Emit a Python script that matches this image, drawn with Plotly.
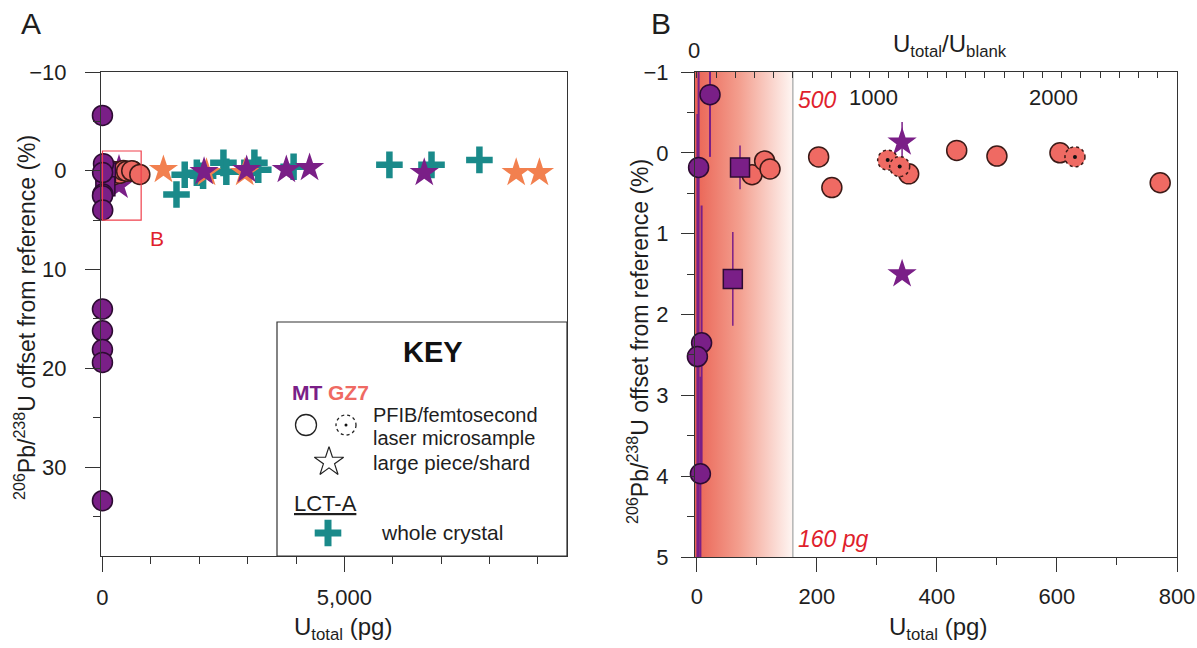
import plotly.graph_objects as go

W, H = 1197, 648
FONT = "Liberation Sans, Arial, Helvetica, sans-serif"
INK = "#1e1e1e"

# ---------------- data ----------------
# MT (purple) PFIB/femtosecond laser microsamples (circles)
mt_circ_x = [22, 3, 8, 1, 6]
mt_circ_y = [-0.72, 0.18, 2.35, 2.52, 3.97]
mt_circ_err = [0.77, 6.0, 1.7, 3.0, 1.2]
# MT microsamples with offsets outside panel B
mt_circ_far_x = [0, 0, 0, 0, 0, 0]
mt_circ_far_y = [-5.6, 14.0, 16.2, 18.1, 19.4, 33.4]
# MT squares
mt_sq_x = [72, 60]
mt_sq_y = [0.18, 1.56]
mt_sq_err = [0.27, 0.58]
# MT large piece / shard (stars)
mt_star_x = [342, 342, 2100, 2980, 3800, 4280, 6650]
mt_star_y = [-0.13, 1.50, 0.10, -0.10, -0.10, -0.30, 0.20]
mt_star_err = [0.25, 0.0, 0.0, 0.0, 0.0, 0.0, 0.0]
# GZ7 microsamples (solid circles)
gz_circ_x = [92, 113, 122, 203, 225, 353, 433, 500, 605, 772]
gz_circ_y = [0.27, 0.10, 0.20, 0.05, 0.43, 0.26, -0.03, 0.04, 0.00, 0.37]
# GZ7 microsamples (dashed circles)
gz_dash_x = [318, 338, 630]
gz_dash_y = [0.09, 0.17, 0.05]
# GZ7 large piece / shard (stars)
gz_star_x = [1260, 2150, 2940, 8550, 9030]
gz_star_y = [-0.10, 0.20, 0.20, 0.20, 0.20]
# LCT-A whole crystals (crosses)
lct_x = [1530, 1700, 1950, 2080, 2500, 2560, 3140, 3220, 3950, 5930, 6800, 7790]
lct_y = [2.4, 0.4, 0.2, 0.5, -0.8, 0.1, -0.8, -0.1, -0.4, -0.6, -0.6, -1.1]

blank_pg = 160          # U_total at U_total/U_blank = 500
u_blank_pg = 0.32       # pg of U in blank

a_xrange = [-30, 9600]
a_yrange = [39, -10]
b_xrange = [-3, 800]
b_yrange = [5, -1]

# ---------------- colours ----------------
PURPLE = "#7a1f87"
PURPLE_EDGE = "#2d0b32"
SALMON = "#ef6a63"
SALMON_EDGE = "#3b1a17"
ORANGE = "#f2804f"
TEAL = "#1a8a8a"
RED = "#e01f2d"


def px(x):
    return x / W


def py(y):
    return 1 - y / H


fig = go.Figure()


def add_panel(xa, ya, in_b):
    def keep(xs, ys, extra=None):
        if not in_b:
            return xs, ys, extra
        idx = [i for i, (a, b) in enumerate(zip(xs, ys))
               if b_xrange[0] <= a <= b_xrange[1] and b_yrange[1] <= b <= b_yrange[0]]
        return [xs[i] for i in idx], [ys[i] for i in idx], ([extra[i] for i in idx] if extra else None)

    common = dict(xaxis=xa, yaxis=ya, hoverinfo="skip", showlegend=False)
    if in_b:
        # gradient blank zone
        fig.add_trace(go.Scatter(
            x=[b_xrange[0], blank_pg, blank_pg, b_xrange[0], b_xrange[0]],
            y=[b_yrange[1], b_yrange[1], b_yrange[0], b_yrange[0], b_yrange[1]],
            mode="lines", fill="toself", line=dict(width=0),
            fillgradient=dict(type="horizontal",
                              colorscale=[[0, "#ea6354"], [0.45, "#f39e8e"], [1, "#fef6f3"]]),
            **common))
        fig.add_trace(go.Scatter(x=[blank_pg, blank_pg], y=[b_yrange[1], b_yrange[0]], mode="lines",
                                 line=dict(color="#b4b4b4", width=1.5), **common))
        # error bars (clipped)
        fig.add_trace(go.Scatter(x=mt_circ_x, y=mt_circ_y, mode="markers", marker=dict(size=1, opacity=0),
                                 error_y=dict(type="data", array=mt_circ_err, color=PURPLE, thickness=2, width=0),
                                 cliponaxis=True, **common))
        fig.add_trace(go.Scatter(x=mt_sq_x, y=mt_sq_y, mode="markers", marker=dict(size=1, opacity=0),
                                 error_y=dict(type="data", array=mt_sq_err, color=PURPLE, thickness=1.5, width=0),
                                 cliponaxis=True, **common))
        sx, sy, se = keep(mt_star_x, mt_star_y, mt_star_err)
        fig.add_trace(go.Scatter(x=sx, y=sy, mode="markers", marker=dict(size=1, opacity=0),
                                 error_y=dict(type="data", array=se, color=PURPLE, thickness=1.5, width=0),
                                 cliponaxis=True, **common))

    circ = 20
    star = 22

    if not in_b:
        fig.add_trace(go.Scatter(x=lct_x, y=lct_y, mode="markers",
                                 marker=dict(symbol="cross-thin-open", size=19, color=TEAL,
                                             line=dict(color=TEAL, width=6.5)),
                                 cliponaxis=False, **common))
        fig.add_trace(go.Scatter(x=gz_star_x, y=gz_star_y, mode="markers",
                                 marker=dict(symbol="star", size=star, color=ORANGE, line=dict(width=0)),
                                 cliponaxis=False, **common))
        # MT stars under the microsample circles in panel A
        fig.add_trace(go.Scatter(x=mt_star_x, y=mt_star_y, mode="markers",
                                 marker=dict(symbol="star", size=star, color=PURPLE, line=dict(width=0)),
                                 cliponaxis=False, **common))
        # at panel A's scale the dashed microsamples read as plain circles
        fig.add_trace(go.Scatter(x=gz_dash_x, y=gz_dash_y, mode="markers",
                                 marker=dict(symbol="circle", size=circ, color=SALMON,
                                             line=dict(color=SALMON_EDGE, width=1.5)),
                                 cliponaxis=False, **common))
    # GZ7 circles
    fig.add_trace(go.Scatter(x=gz_circ_x, y=gz_circ_y, mode="markers",
                             marker=dict(symbol="circle", size=circ, color=SALMON,
                                         line=dict(color=SALMON_EDGE, width=1.5)),
                             cliponaxis=False, **common))
    # MT squares
    fig.add_trace(go.Scatter(x=mt_sq_x, y=mt_sq_y, mode="markers",
                             marker=dict(symbol="square", size=19, color=PURPLE,
                                         line=dict(color=PURPLE_EDGE, width=1.5)),
                             cliponaxis=False, **common))
    # MT circles
    cx = mt_circ_x + ([] if in_b else mt_circ_far_x)
    cy = mt_circ_y + ([] if in_b else mt_circ_far_y)
    fig.add_trace(go.Scatter(x=cx, y=cy, mode="markers",
                             marker=dict(symbol="circle", size=circ, color=PURPLE,
                                         line=dict(color=PURPLE_EDGE, width=1.5)),
                             cliponaxis=False, **common))

    if in_b:
        # MT stars
        sx, sy, _ = keep(mt_star_x, mt_star_y)
        fig.add_trace(go.Scatter(x=sx, y=sy, mode="markers",
                                 marker=dict(symbol="star", size=star, color=PURPLE, line=dict(width=0)),
                                 cliponaxis=False, **common))
        # dashed GZ7 circles as pixel-sized shapes anchored at data points
        for dx, dy in zip(gz_dash_x, gz_dash_y):
            fig.add_shape(type="circle", xref=xa, yref=ya, xsizemode="pixel", ysizemode="pixel",
                          xanchor=dx, yanchor=dy, x0=-10, x1=10, y0=-10, y1=10,
                          fillcolor=SALMON, line=dict(color=SALMON_EDGE, width=1.5, dash="dot"), layer="above")
            fig.add_shape(type="circle", xref=xa, yref=ya, xsizemode="pixel", ysizemode="pixel",
                          xanchor=dx, yanchor=dy, x0=-2, x1=2, y0=-2, y1=2,
                          fillcolor="#111", line=dict(width=0), layer="above")


add_panel("x", "y", in_b=False)
add_panel("x2", "y2", in_b=True)

# empty trace to carry the top axis of panel B
fig.add_trace(go.Scatter(x=[], y=[], xaxis="x4", yaxis="y2", showlegend=False))

# ---------------- key (legend) glyphs on a pixel-space overlay ----------------
key_glyph_x = [306, 329, 328]
key_glyph_y = [425, 462, 533]
fig.add_trace(go.Scatter(x=[key_glyph_x[0]], y=[key_glyph_y[0]], xaxis="x3", yaxis="y3", mode="markers",
                         marker=dict(symbol="circle-open", size=21, color="#222", line=dict(color="#222", width=1.3)),
                         showlegend=False, hoverinfo="skip"))
fig.add_trace(go.Scatter(x=[key_glyph_x[1]], y=[key_glyph_y[1]], xaxis="x3", yaxis="y3", mode="markers",
                         marker=dict(symbol="star-open", size=22, color="#222", line=dict(color="#222", width=1.2)),
                         showlegend=False, hoverinfo="skip"))
fig.add_trace(go.Scatter(x=[key_glyph_x[2]], y=[key_glyph_y[2]], xaxis="x3", yaxis="y3", mode="markers",
                         marker=dict(symbol="cross-thin-open", size=19, color=TEAL, line=dict(color=TEAL, width=7)),
                         showlegend=False, hoverinfo="skip"))
fig.add_shape(type="circle", xref="x3", yref="y3", x0=336, x1=356, y0=415, y1=435,
              line=dict(color="#222", width=1.3, dash="dot"), fillcolor="rgba(0,0,0,0)")
fig.add_shape(type="circle", xref="x3", yref="y3", x0=344.5, x1=347.5, y0=423.5, y1=426.5,
              line=dict(width=0), fillcolor="#111")

# key box
fig.add_shape(type="rect", xref="paper", yref="paper", x0=px(277), x1=px(567), y0=py(556), y1=py(322),
              line=dict(color="#333", width=1.2), fillcolor="white", layer="below")

# red box for panel B region
fig.add_shape(type="rect", xref="x", yref="y", x0=0, x1=800, y0=-2, y1=5,
              line=dict(color="#f0404c", width=1.2), layer="above")

# ---------------- axes ----------------
axline = dict(showline=True, linecolor="#333", linewidth=1.2, mirror=True, showgrid=False, zeroline=False,
              ticks="outside", tickcolor="#333", tickwidth=1.2, automargin=False,
              tickfont=dict(family=FONT, size=22, color=INK))

fig.update_layout(
    width=W, height=H, autosize=False,
    margin=dict(l=0, r=0, t=0, b=0, pad=0, autoexpand=False),
    paper_bgcolor="white", plot_bgcolor="rgba(0,0,0,0)", showlegend=False,
    font=dict(family=FONT, color=INK),
    xaxis=dict(domain=[px(101), px(567)], range=a_xrange, anchor="y",
               tickvals=[0, 5000], ticktext=["0", "5,000"], ticklen=15, ticklabelstandoff=6,
               minor=dict(dtick=1000, tick0=0, ticklen=7, ticks="outside", tickcolor="#333", tickwidth=1.2),
               **axline),
    yaxis=dict(domain=[py(556), py(72)], range=a_yrange, anchor="x",
               tickvals=[-10, 0, 10, 20, 30], ticklen=15, ticklabelstandoff=14,
               minor=dict(dtick=5, tick0=0, ticklen=7, ticks="outside", tickcolor="#333", tickwidth=1.2),
               **axline),
    xaxis2=dict(domain=[px(695), px(1177)], range=b_xrange, anchor="y2",
                dtick=200, tick0=0, ticklen=14, ticklabelstandoff=5,
                minor=dict(dtick=100, tick0=0, ticklen=7, ticks="outside", tickcolor="#333", tickwidth=1.2),
                **axline),
    yaxis2=dict(domain=[py(557), py(72)], range=b_yrange, anchor="x2",
                dtick=1, tick0=0, ticklen=13, ticklabelstandoff=8,
                minor=dict(dtick=0.5, tick0=0, ticklen=7, ticks="outside", tickcolor="#333", tickwidth=1.2),
                **axline),
    xaxis4=dict(overlaying="x2", anchor="y2", side="top", automargin=False,
                range=[b_xrange[0] / u_blank_pg, b_xrange[1] / u_blank_pg],
                ticks="inside", dtick=100, tick0=0, ticklen=6, tickcolor="#333", tickwidth=1.2,
                showticklabels=False, showgrid=False, zeroline=False, showline=False),
    xaxis3=dict(domain=[0, 1], range=[0, W], anchor="y3", visible=False, automargin=False),
    yaxis3=dict(domain=[0, 1], range=[H, 0], anchor="x3", visible=False, automargin=False),
)


def ann(text, x, y, size=22, color=INK, xanchor="center", yanchor="middle", **kw):
    fig.add_annotation(text=text, x=px(x), y=py(y), xref="paper", yref="paper", showarrow=False,
                       font=dict(family=FONT, size=size, color=color), xanchor=xanchor, yanchor=yanchor, **kw)


ylab = "<sup>206</sup>Pb/<sup>238</sup>U offset from reference (%)"
xlab = "U<sub>total</sub> (pg)"

ann("A", 31, 24, size=30)
ann("B", 661, 24, size=30)
ann(ylab, 25, 318, size=23, textangle=-90)
ann(ylab, 638, 342, size=23, textangle=-90)
ann(xlab, 343, 628, size=24)
ann(xlab, 938, 628, size=24)
ann("U<sub>total</sub>/U<sub>blank</sub>", 950, 46, size=24)
ann("0", 694, 50, size=22)
ann("1000", 873, 97, size=22)
ann("2000", 1053, 97, size=22)
ann("<i>500</i>", 796, 100, size=23, color=RED, xanchor="left")
ann("<i>160 pg</i>", 796, 539, size=23, color=RED, xanchor="left")
ann("B", 157, 238, size=21, color=RED)

# key text
ann("<b>KEY</b>", 433, 352, size=29, color="#111")
ann("<b>MT</b>", 290, 392, size=21, color=PURPLE, xanchor="left")
ann("<b>GZ7</b>", 326, 392, size=21, color=SALMON, xanchor="left")
ann("PFIB/femtosecond", 371, 415, size=20, xanchor="left")
ann("laser microsample", 371, 438, size=20, xanchor="left")
ann("large piece/shard", 371, 463, size=20.5, xanchor="left")
ann("<span style='text-decoration:underline'>LCT-A</span>", 292, 503, size=22, xanchor="left")
ann("whole crystal", 379, 532, size=21, xanchor="left")

fig.write_html("out.html")
